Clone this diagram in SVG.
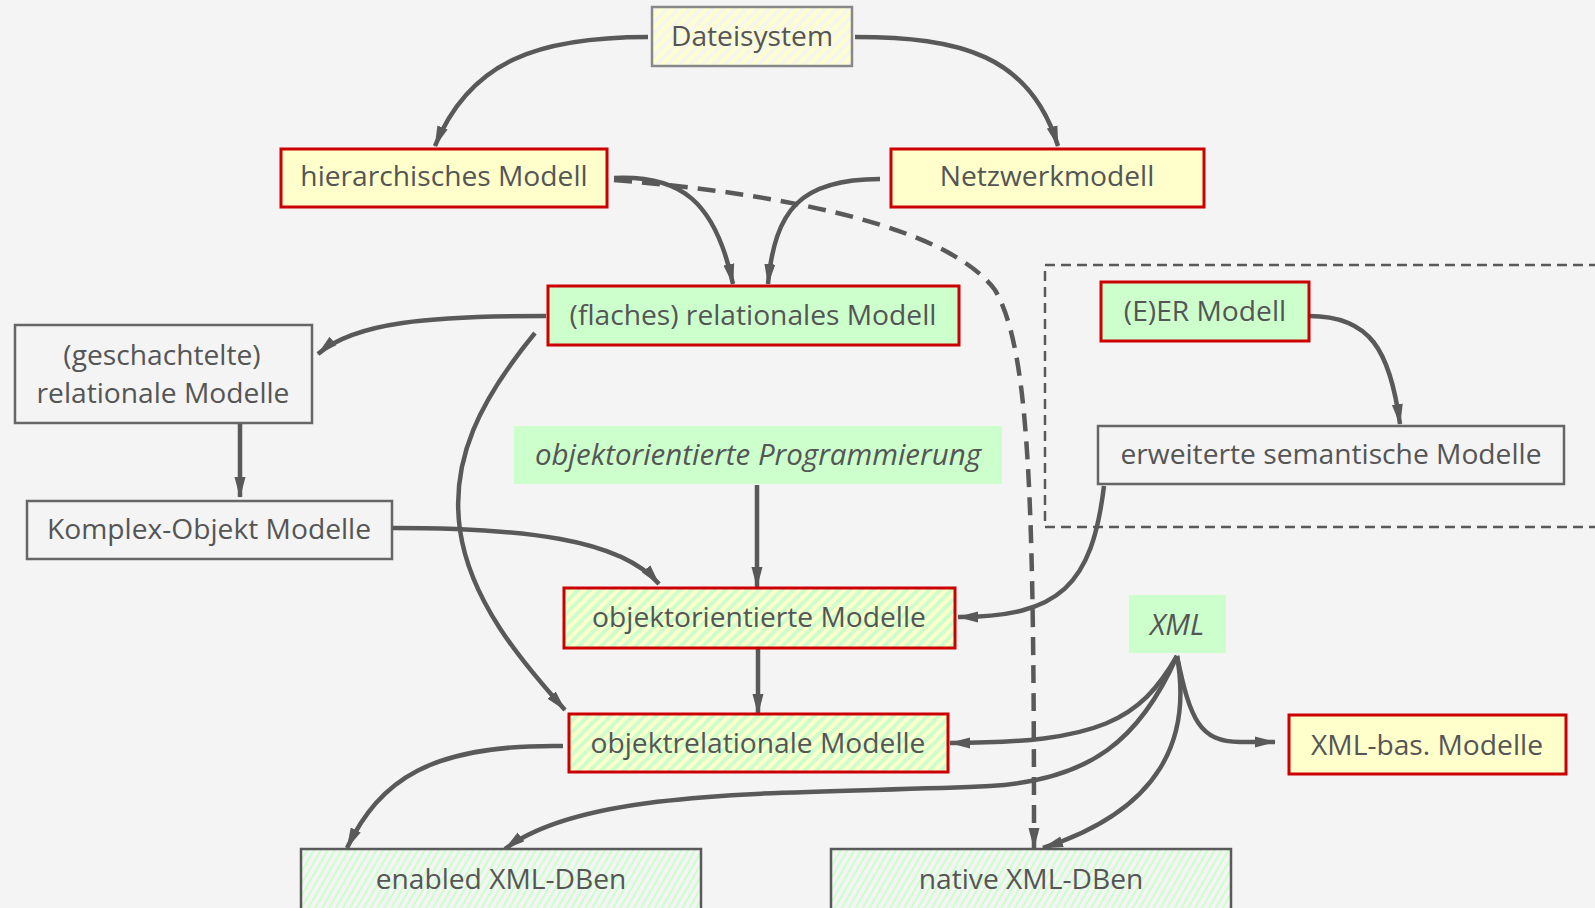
<svg xmlns="http://www.w3.org/2000/svg" width="1595" height="908" viewBox="0 0 1595 908">
<defs>
<style>
.t{font-family:"Open Sans","Liberation Sans",sans-serif;font-size:28.2px;fill:#555;text-anchor:middle}
.it{font-style:italic;font-size:29.5px}
.red{stroke:#cc0000;stroke-width:3}
.gry{stroke:#666;stroke-width:2.5;fill:none}
.c{fill:none;stroke:#595959;stroke-width:4.5;marker-end:url(#arr)}
.d{fill:none;stroke:#595959;stroke-width:4.5;stroke-dasharray:18 10;marker-end:url(#arr)}
</style>
<marker id="arr" markerUnits="userSpaceOnUse" markerWidth="22" markerHeight="12" refX="20" refY="6" orient="auto">
<path d="M0,0.5 L21,6 L0,11.5 Z" fill="#595959"/>
</marker>
<pattern id="pY" patternUnits="userSpaceOnUse" width="8" height="8" patternTransform="rotate(45)">
<rect width="8" height="8" fill="#f6f6f0"/><rect width="4" height="8" fill="#ffffcc"/>
</pattern>
<pattern id="pGY" patternUnits="userSpaceOnUse" width="8" height="8" patternTransform="rotate(45)">
<rect width="8" height="8" fill="#ffffcc"/><rect width="4" height="8" fill="#ccffcc"/>
</pattern>
<pattern id="pG" patternUnits="userSpaceOnUse" width="6" height="6" patternTransform="rotate(30)">
<rect width="6" height="6" fill="#f4f4f4"/><rect width="2" height="6" fill="#ccffcc"/>
</pattern>
</defs>
<rect width="1595" height="908" fill="#f4f4f4"/>

<g id="group-semantic">
<rect x="1045" y="265" width="570" height="262" fill="none" stroke="#595959" stroke-width="2.5" stroke-dasharray="10 6"/>
</g>

<g id="connectors">
<path class="c" d="M648,37 C540,37 470,60 435,146"/>
<path class="c" d="M855,37 C960,37 1030,55 1058,146"/>
<path class="c" d="M614,178 C680,175 715,200 733,284"/>
<path class="c" d="M880,179 C800,179 775,210 768,284"/>
<path class="d" d="M614,180 C800,195 950,230 995,290 C1030,350 1034,500 1034,848"/>
<path class="c" d="M546,316 C430,316 355,322 318,354"/>
<path class="c" d="M240,423 L240,497"/>
<path class="c" d="M392,528 C520,528 620,538 659,584"/>
<path class="c" d="M535,333 C480,400 450,460 460,530 C470,600 520,660 565,710"/>
<path class="c" d="M757,485 L757,587"/>
<path class="c" d="M758,648 L758,714"/>
<path class="c" d="M1309,316 C1370,316 1390,350 1400,424"/>
<path class="c" d="M1104,486 C1092,585 1060,617 958,617"/>
<path class="c" d="M1177,656 C1140,720 1100,743 950,743"/>
<path class="c" d="M1177,656 C1140,740 1090,780 990,786 C800,795 590,785 505,849"/>
<path class="c" d="M1177,656 C1192,740 1160,810 1043,848"/>
<path class="c" d="M1177,656 C1190,720 1200,742 1240,742 L1275,742"/>
<path class="c" d="M563,746 C430,744 380,780 347,848"/>
</g>

<g id="n-dateisystem">
<rect x="652" y="7" width="200" height="59" fill="url(#pY)" stroke="#888" stroke-width="2.5"/>
<text class="t" x="752" y="46">Dateisystem</text>
</g>
<g id="n-hierarchisch">
<rect x="281" y="149" width="326" height="58" fill="#ffffcc" class="red"/>
<text class="t" x="444" y="186">hierarchisches Modell</text>
</g>
<g id="n-netzwerk">
<rect x="891" y="149" width="313" height="58" fill="#ffffcc" class="red"/>
<text class="t" x="1047" y="186">Netzwerkmodell</text>
</g>
<g id="n-flach">
<rect x="548" y="286" width="411" height="59" fill="#ccffcc" class="red"/>
<text class="t" x="753" y="325">(flaches) relationales Modell</text>
</g>
<g id="n-er">
<rect x="1101" y="282" width="208" height="59" fill="#ccffcc" class="red"/>
<text class="t" x="1205" y="321">(E)ER Modell</text>
</g>
<g id="n-erweitert">
<rect x="1098" y="426" width="466" height="58" class="gry"/>
<text class="t" x="1331" y="464">erweiterte semantische Modelle</text>
</g>
<g id="n-geschachtelt">
<rect x="15" y="325" width="297" height="98" class="gry"/>
<text class="t" x="162" y="365">(geschachtelte)</text>
<text class="t" x="163" y="403">relationale Modelle</text>
</g>
<g id="n-komplex">
<rect x="27" y="501" width="365" height="58" class="gry"/>
<text class="t" x="209" y="539">Komplex-Objekt Modelle</text>
</g>
<g id="n-oop">
<rect x="514" y="426" width="488" height="58" fill="#ccffcc"/>
<text class="t it" x="758" y="465">objektorientierte Programmierung</text>
</g>
<g id="n-oo">
<rect x="564" y="588" width="391" height="60" fill="url(#pGY)" class="red"/>
<text class="t" x="759" y="627">objektorientierte Modelle</text>
</g>
<g id="n-or">
<rect x="569" y="714" width="379" height="58" fill="url(#pGY)" class="red"/>
<text class="t" x="758" y="753">objektrelationale Modelle</text>
</g>
<g id="n-xml">
<rect x="1129" y="595" width="97" height="58" fill="#ccffcc"/>
<text class="t it" x="1177" y="635">XML</text>
</g>
<g id="n-xmlbas">
<rect x="1289" y="715" width="277" height="59" fill="#ffffcc" class="red"/>
<text class="t" x="1427" y="755">XML-bas. Modelle</text>
</g>
<g id="n-enabled">
<rect x="301" y="849" width="400" height="80" fill="url(#pG)" stroke="#595959" stroke-width="2.5"/>
<text class="t" x="501" y="889">enabled XML-DBen</text>
</g>
<g id="n-native">
<rect x="831" y="849" width="400" height="80" fill="url(#pG)" stroke="#595959" stroke-width="2.5"/>
<text class="t" x="1031" y="889">native XML-DBen</text>
</g>
</svg>
